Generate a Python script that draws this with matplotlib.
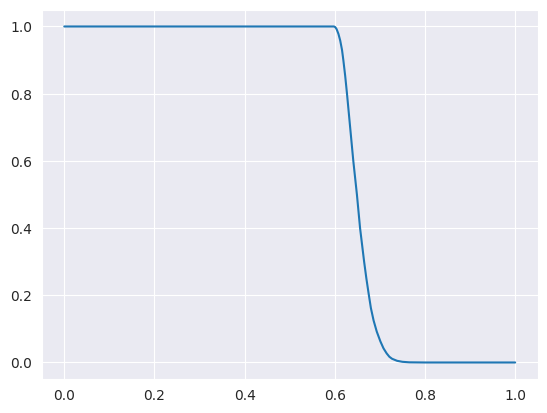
import matplotlib
matplotlib.use("Agg")
import matplotlib.pyplot as plt
import seaborn as sns

sns.set_style("darkgrid")

# values
x = [0.0, 0.2, 0.4, 0.598, 0.601, 0.604, 0.608, 0.612, 0.616, 0.619, 0.623,
     0.627, 0.634, 0.641, 0.649, 0.656, 0.665, 0.670, 0.675, 0.680, 0.686,
     0.693, 0.701, 0.708, 0.715, 0.721, 0.727, 0.738, 0.75, 0.765, 0.8,
     0.9, 1.0]
y = [1.0, 1.0, 1.0, 1.0, 0.998, 0.992, 0.978, 0.958, 0.93, 0.899, 0.853,
     0.80, 0.70, 0.60, 0.50, 0.40, 0.30, 0.25, 0.205, 0.162, 0.125,
     0.092, 0.063, 0.042, 0.027, 0.017, 0.011, 0.005, 0.002, 0.0005, 0.0,
     0.0, 0.0]

fig, ax = plt.subplots(figsize=(6.4, 4.8), dpi=100)
ax.plot(x, y, color="#1f77b4")
fig.savefig("out.png", bbox_inches="tight")
